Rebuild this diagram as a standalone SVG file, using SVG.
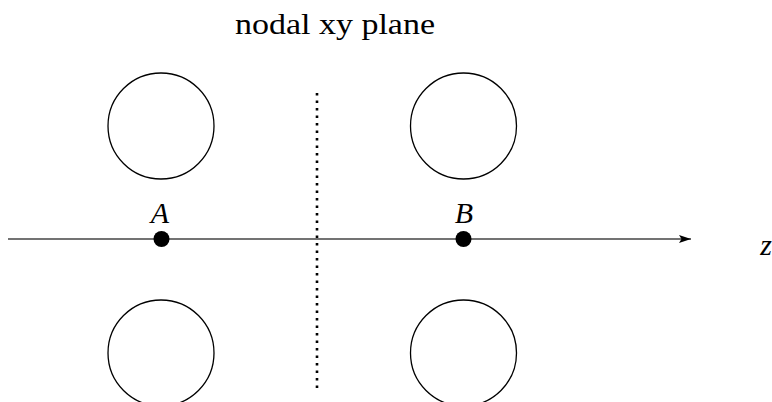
<svg xmlns="http://www.w3.org/2000/svg" width="772" height="402" viewBox="0 0 772 402">
<style>
.ring{fill:none;stroke:#000;stroke-width:1.3}
.pt{fill:#000}
.lbl{font-family:"Liberation Serif","DejaVu Serif",serif;font-style:italic;font-size:30px;fill:#000}
.ttl{font-family:"Liberation Serif","DejaVu Serif",serif;font-size:29px;fill:#000}
</style>
<defs>
<marker id="arr" markerWidth="12" markerHeight="8" refX="12" refY="4" orient="auto" markerUnits="userSpaceOnUse">
<path d="M0,0 L12,4 L0,8 L2.5,4 Z" fill="#000"/>
</marker>
</defs>
<rect width="772" height="402" fill="#fff"/>
<text class="ttl" x="235" y="34" textLength="200" lengthAdjust="spacingAndGlyphs">nodal xy plane</text>
<g id="connectors">
<line x1="8" y1="239" x2="691" y2="239" stroke="#444" stroke-width="1.4" marker-end="url(#arr)"/>
<line x1="317" y1="93" x2="317" y2="392" stroke="#000" stroke-width="2.6" stroke-dasharray="2.4 5.1" stroke-linecap="butt"/>
</g>
<g id="circle-tl"><circle class="ring" cx="161" cy="126" r="53"/></g>
<g id="circle-tr"><circle class="ring" cx="463.5" cy="126" r="53"/></g>
<g id="circle-bl"><circle class="ring" cx="161" cy="353" r="53"/></g>
<g id="circle-br"><circle class="ring" cx="463.5" cy="353" r="53"/></g>
<g id="node-A"><circle class="pt" cx="161.5" cy="239" r="8"/><text class="lbl" x="160" y="223" text-anchor="middle">A</text></g>
<g id="node-B"><circle class="pt" cx="463.5" cy="239" r="8"/><text class="lbl" x="464" y="223" text-anchor="middle">B</text></g>
<g id="axis-label"><text class="lbl" x="766" y="255" text-anchor="middle">z</text></g>
</svg>
